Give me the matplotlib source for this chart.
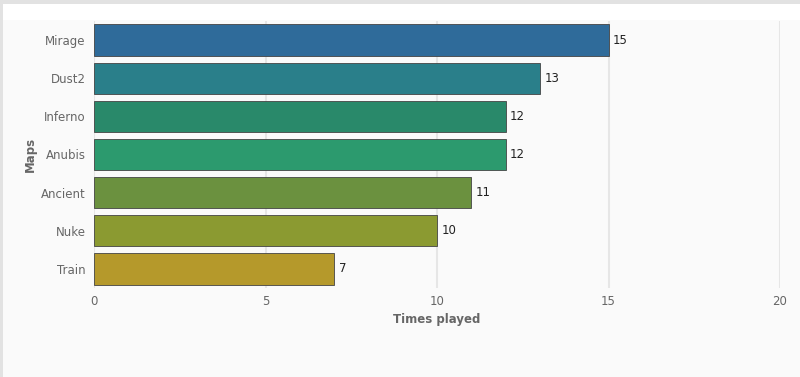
import matplotlib
matplotlib.use("Agg")
import matplotlib.pyplot as plt
from matplotlib.patches import Rectangle

maps = ["Mirage", "Dust2", "Inferno", "Anubis", "Ancient", "Nuke", "Train"]
times_played = [15, 13, 12, 12, 11, 10, 7]
bar_colors = ["#2f6b9a", "#2a7f8a", "#29896a", "#2c9a6e", "#6b913f", "#8b9a31", "#b5992b"]
x_ticks = [0, 5, 10, 15, 20]

fig = plt.figure(figsize=(8.0, 3.77), dpi=100)
fig.patch.set_facecolor("#fafafa")
# border at top and left
fig.patches.append(Rectangle((0, 1 - 4 / 377), 1, 4 / 377, transform=fig.transFigure,
                             facecolor="#e2e2e2", edgecolor="none", zorder=0))
fig.patches.append(Rectangle((0, 1 - 20 / 377), 1, 16 / 377, transform=fig.transFigure,
                             facecolor="#ffffff", edgecolor="none", zorder=0))
fig.patches.append(Rectangle((0, 0), 3 / 800, 1, transform=fig.transFigure,
                             facecolor="#e2e2e2", edgecolor="none", zorder=0))

ax = fig.add_axes([94 / 800, 1 - 288 / 377, (780 - 94) / 800, (288 - 21) / 377])
ax.set_facecolor("#fafafa")

y = list(range(len(maps)))
ax.barh(y, times_played, height=0.82, color=bar_colors, edgecolor="#444444",
        linewidth=0.6, zorder=3)
for yi, v in zip(y, times_played):
    ax.text(v + 0.13, yi, str(v), va="center", ha="left", fontsize=8.5,
            color="#222222", zorder=4)

ax.set_xlim(0, 20)
ax.set_ylim(len(maps) - 0.5, -0.5)
ax.set_yticks(y)
ax.set_yticklabels(maps)
ax.set_xticks(x_ticks)
ax.set_xticklabels([str(t) for t in x_ticks])
ax.tick_params(axis="both", length=0, labelsize=8.5, colors="#666666")
ax.tick_params(axis="x", pad=5)
ax.tick_params(axis="y", pad=6)
ax.grid(axis="x", color="#e6e6e6", linewidth=1.5, zorder=0)
ax.grid(axis="y", visible=False)
for s in ax.spines.values():
    s.set_visible(False)

ax.set_xlabel("Times played", fontsize=8.5, fontweight="bold", color="#666666", labelpad=4)
ax.set_ylabel("Maps", fontsize=8.5, fontweight="bold", color="#666666", labelpad=3)

fig.savefig("out.png", dpi=100, facecolor=fig.get_facecolor())
